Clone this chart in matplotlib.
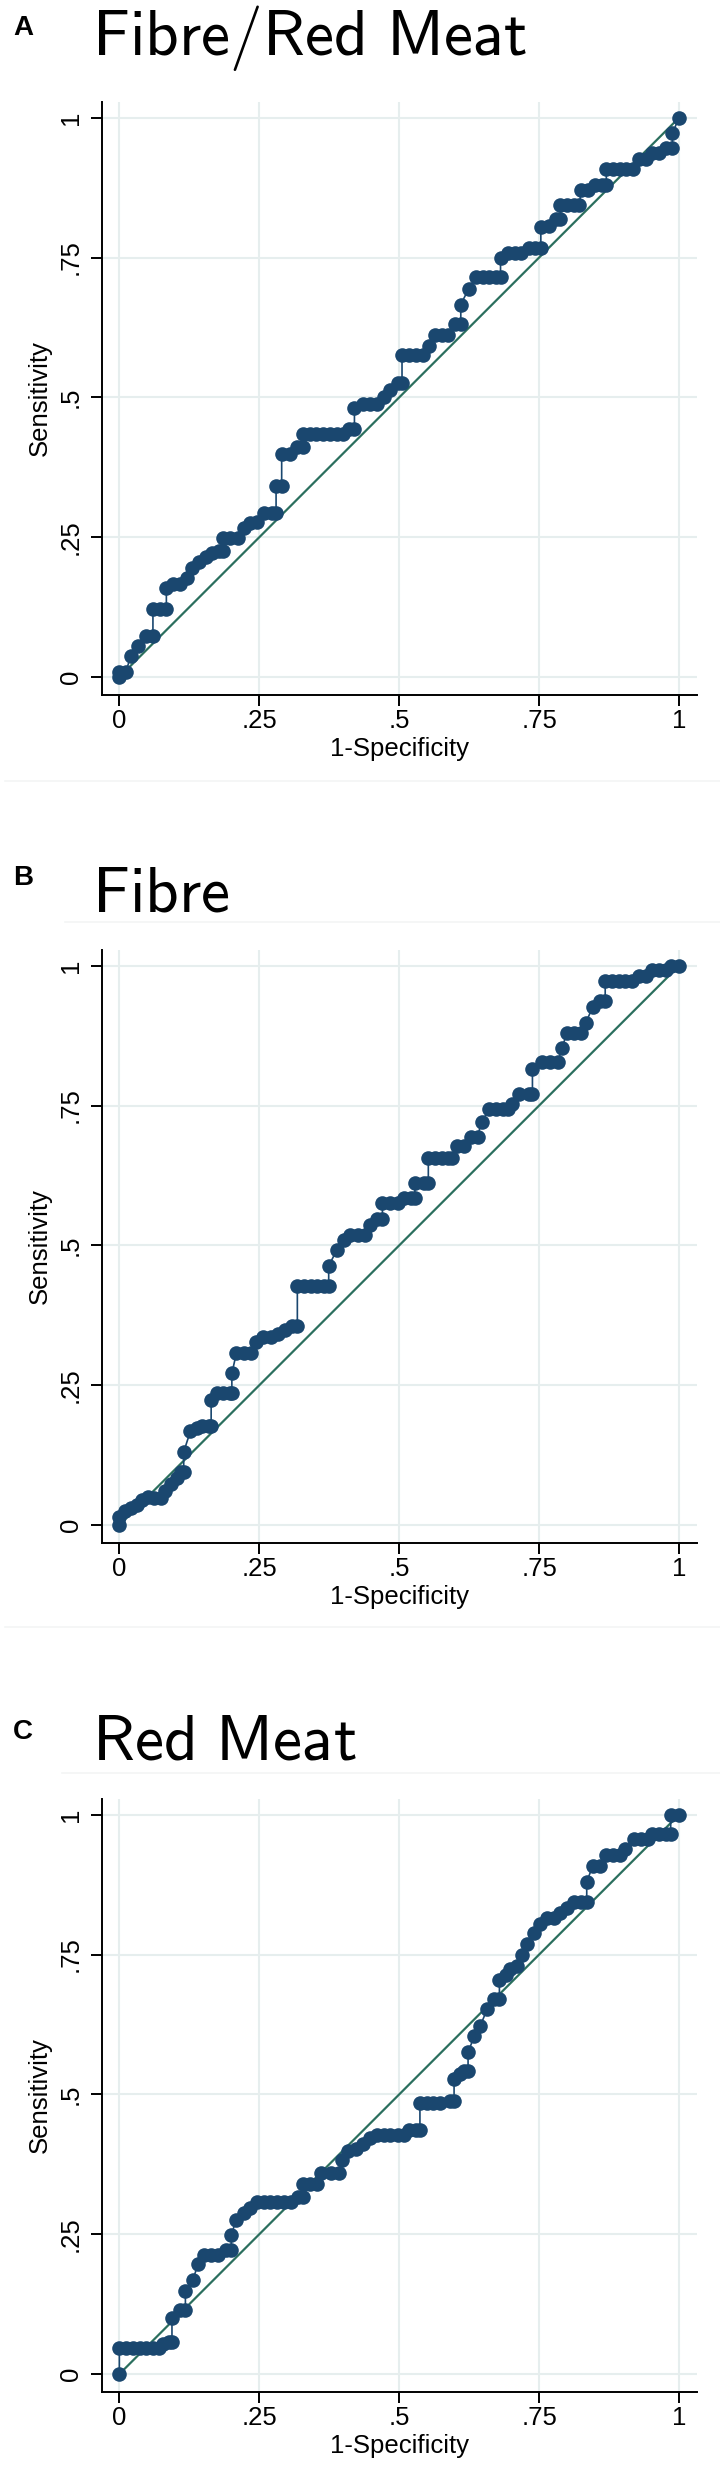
import matplotlib
matplotlib.use('Agg')
import matplotlib.pyplot as plt
from matplotlib.lines import Line2D

plt.rcParams['mathtext.fontset'] = 'cm'
plt.rcParams['font.family'] = ['Liberation Sans', 'DejaVu Sans']

# ROC points (1-specificity, sensitivity)
fibre_meat_fpr = [0.000, 0.000, 0.012, 0.020, 0.033, 0.048, 0.060, 0.060, 0.072, 0.084, 0.084, 0.096,
                  0.108, 0.120, 0.130, 0.142, 0.154, 0.166, 0.178, 0.186, 0.186, 0.198, 0.212, 0.222,
                  0.234, 0.246, 0.258, 0.272, 0.280, 0.280, 0.290, 0.290, 0.304, 0.318, 0.328, 0.328,
                  0.340, 0.352, 0.364, 0.376, 0.388, 0.400, 0.410, 0.420, 0.420, 0.435, 0.447, 0.460,
                  0.472, 0.484, 0.497, 0.505, 0.505, 0.518, 0.530, 0.542, 0.554, 0.564, 0.576, 0.588,
                  0.600, 0.610, 0.610, 0.624, 0.637, 0.649, 0.661, 0.673, 0.681, 0.681, 0.694, 0.706,
                  0.718, 0.731, 0.743, 0.753, 0.753, 0.768, 0.780, 0.788, 0.788, 0.800, 0.812, 0.822,
                  0.825, 0.837, 0.850, 0.862, 0.870, 0.870, 0.882, 0.894, 0.906, 0.918, 0.928, 0.940,
                  0.952, 0.965, 0.977, 0.988, 0.988, 1.000]
fibre_meat_tpr = [0.000, 0.010, 0.010, 0.037, 0.056, 0.074, 0.074, 0.122, 0.122, 0.122, 0.160, 0.166,
                  0.166, 0.178, 0.195, 0.205, 0.214, 0.222, 0.225, 0.225, 0.249, 0.249, 0.249, 0.266,
                  0.276, 0.278, 0.294, 0.294, 0.294, 0.341, 0.341, 0.399, 0.399, 0.411, 0.411, 0.434,
                  0.434, 0.434, 0.434, 0.434, 0.434, 0.434, 0.444, 0.444, 0.481, 0.489, 0.489, 0.489,
                  0.501, 0.514, 0.526, 0.526, 0.575, 0.575, 0.575, 0.575, 0.592, 0.612, 0.612, 0.612,
                  0.631, 0.631, 0.666, 0.694, 0.715, 0.715, 0.715, 0.715, 0.715, 0.750, 0.758, 0.758,
                  0.758, 0.767, 0.767, 0.767, 0.805, 0.807, 0.818, 0.818, 0.844, 0.844, 0.844, 0.844,
                  0.871, 0.871, 0.879, 0.879, 0.879, 0.908, 0.908, 0.908, 0.908, 0.908, 0.927, 0.927,
                  0.937, 0.937, 0.945, 0.945, 0.972, 1.000]

fibre_fpr = [0.000, 0.000, 0.010, 0.020, 0.031, 0.041, 0.051, 0.062, 0.074, 0.082, 0.092, 0.103,
             0.111, 0.115, 0.115, 0.127, 0.138, 0.148, 0.160, 0.164, 0.164, 0.175, 0.185, 0.197,
             0.201, 0.201, 0.209, 0.222, 0.236, 0.245, 0.256, 0.271, 0.283, 0.296, 0.308, 0.318,
             0.318, 0.330, 0.342, 0.354, 0.366, 0.374, 0.374, 0.388, 0.401, 0.412, 0.427, 0.439,
             0.447, 0.460, 0.470, 0.470, 0.484, 0.497, 0.509, 0.521, 0.528, 0.528, 0.544, 0.552,
             0.552, 0.564, 0.576, 0.588, 0.595, 0.603, 0.616, 0.628, 0.640, 0.647, 0.661, 0.673,
             0.685, 0.694, 0.702, 0.714, 0.731, 0.738, 0.738, 0.755, 0.770, 0.784, 0.790, 0.800,
             0.812, 0.824, 0.833, 0.846, 0.858, 0.868, 0.868, 0.880, 0.892, 0.904, 0.916, 0.928,
             0.940, 0.952, 0.964, 0.976, 0.986, 1.000]
fibre_tpr = [0.000, 0.014, 0.026, 0.030, 0.036, 0.044, 0.050, 0.049, 0.049, 0.061, 0.073, 0.084,
             0.095, 0.095, 0.131, 0.168, 0.173, 0.178, 0.178, 0.178, 0.224, 0.236, 0.236, 0.236,
             0.236, 0.271, 0.307, 0.307, 0.307, 0.327, 0.336, 0.336, 0.341, 0.348, 0.355, 0.355,
             0.427, 0.427, 0.427, 0.427, 0.427, 0.427, 0.463, 0.491, 0.509, 0.519, 0.519, 0.519,
             0.537, 0.547, 0.547, 0.575, 0.575, 0.575, 0.584, 0.584, 0.584, 0.612, 0.612, 0.612,
             0.656, 0.656, 0.656, 0.656, 0.656, 0.678, 0.678, 0.694, 0.694, 0.721, 0.743, 0.743,
             0.743, 0.743, 0.752, 0.771, 0.771, 0.771, 0.815, 0.827, 0.827, 0.827, 0.852, 0.879,
             0.879, 0.879, 0.897, 0.927, 0.936, 0.936, 0.972, 0.972, 0.972, 0.972, 0.972, 0.981,
             0.981, 0.993, 0.993, 0.993, 1.000, 1.000]

meat_fpr = [0.000, 0.000, 0.012, 0.024, 0.036, 0.048, 0.060, 0.070, 0.078, 0.089, 0.094, 0.094,
            0.108, 0.118, 0.118, 0.131, 0.141, 0.152, 0.164, 0.176, 0.190, 0.200, 0.200, 0.209,
            0.222, 0.234, 0.246, 0.258, 0.270, 0.282, 0.294, 0.306, 0.320, 0.328, 0.328, 0.340,
            0.353, 0.361, 0.378, 0.392, 0.398, 0.409, 0.423, 0.435, 0.447, 0.460, 0.472, 0.484,
            0.497, 0.509, 0.517, 0.530, 0.537, 0.537, 0.549, 0.561, 0.573, 0.590, 0.598, 0.598,
            0.608, 0.616, 0.623, 0.623, 0.634, 0.645, 0.657, 0.669, 0.679, 0.679, 0.690, 0.698,
            0.710, 0.719, 0.729, 0.741, 0.751, 0.764, 0.776, 0.788, 0.800, 0.813, 0.825, 0.835,
            0.835, 0.846, 0.858, 0.870, 0.882, 0.894, 0.904, 0.920, 0.932, 0.944, 0.952, 0.964,
            0.976, 0.985, 0.985, 1.000]
meat_tpr = [0.000, 0.046, 0.046, 0.046, 0.046, 0.046, 0.046, 0.046, 0.053, 0.058, 0.058, 0.101,
            0.115, 0.115, 0.149, 0.168, 0.197, 0.213, 0.213, 0.213, 0.222, 0.222, 0.249, 0.276,
            0.288, 0.297, 0.307, 0.307, 0.307, 0.307, 0.307, 0.307, 0.316, 0.316, 0.340, 0.340,
            0.340, 0.360, 0.360, 0.360, 0.382, 0.398, 0.403, 0.412, 0.422, 0.427, 0.427, 0.427,
            0.427, 0.427, 0.436, 0.436, 0.436, 0.484, 0.484, 0.484, 0.484, 0.489, 0.489, 0.527,
            0.537, 0.542, 0.542, 0.575, 0.604, 0.623, 0.652, 0.671, 0.671, 0.705, 0.714, 0.724,
            0.729, 0.750, 0.769, 0.788, 0.805, 0.815, 0.815, 0.825, 0.834, 0.844, 0.844, 0.844,
            0.880, 0.909, 0.909, 0.928, 0.928, 0.928, 0.938, 0.957, 0.957, 0.957, 0.966, 0.966,
            0.966, 0.966, 1.000, 1.000]

panel_letters = ['A', 'B', 'C']
panel_titles = [r'$\mathsf{Fibre/Red\ Meat}$', r'$\mathsf{Fibre}$', r'$\mathsf{Red\ Meat}$']
ticks = [0, 0.25, 0.5, 0.75, 1]
tick_labels = ['0', '.25', '.5', '.75', '1']

NAVY = '#1a476f'
DIAG = '#2b6f5e'
GRID = '#e6eeee'

W, H = 720, 2480
fig = plt.figure(figsize=(W / 100, H / 100), dpi=100)

# pixel layout of each panel (axes bottom spine, title baseline, letter centre)
ax_bottom_px = [695, 1543, 2392]
title_base_px = [55, 912, 1759]
letter_px = [28, 878, 1732]
sep_px = [(781, 5), (922, 65), (1627, 5), (1773, 62)]

curves = [(fibre_meat_fpr, fibre_meat_tpr), (fibre_fpr, fibre_tpr), (meat_fpr, meat_tpr)]

for i, (fpr, tpr) in enumerate(curves):
    ax = fig.add_axes([102 / W, 1 - ax_bottom_px[i] / H, 595 / W, 593 / H])
    ax.set_xlim(-0.031, 1.032)
    ax.set_ylim(-0.032, 1.028)
    ax.set_axisbelow(True)
    ax.grid(True, color=GRID, lw=1.5)
    ax.plot([0, 1], [0, 1], color=DIAG, lw=1.6, zorder=2)
    ax.plot(fpr, tpr, color=NAVY, lw=1.2, marker='o', ms=10.5, mfc=NAVY, mec=NAVY, mew=0, zorder=3)
    for s in ['top', 'right']:
        ax.spines[s].set_visible(False)
    for s in ['left', 'bottom']:
        ax.spines[s].set_linewidth(1.4)
    ax.set_xticks(ticks)
    ax.set_xticklabels(tick_labels)
    ax.set_yticks(ticks)
    ax.set_yticklabels(tick_labels, rotation=90, va='center')
    ax.tick_params(length=8, width=1.4, labelsize=18.5)
    ax.tick_params(axis='x', pad=2)
    ax.tick_params(axis='y', pad=6)
    ax.set_xlabel('1-Specificity', fontsize=18.5, labelpad=3)
    ax.set_ylabel('Sensitivity', fontsize=18.5, labelpad=5)

    fig.text(92 / W, 1 - title_base_px[i] / H, panel_titles[i], fontsize=47, va='baseline', ha='left')
    fig.text(13 / W, 1 - letter_px[i] / H, panel_letters[i], fontsize=20, fontweight='bold',
             va='center', ha='left')

# faint separators left in the composite image
for y, x0 in sep_px:
    fig.add_artist(Line2D([x0 / W, 1], [1 - y / H, 1 - y / H], color='#f3f5f5', lw=1.2))

fig.savefig('out.png', dpi=100, facecolor='white')
